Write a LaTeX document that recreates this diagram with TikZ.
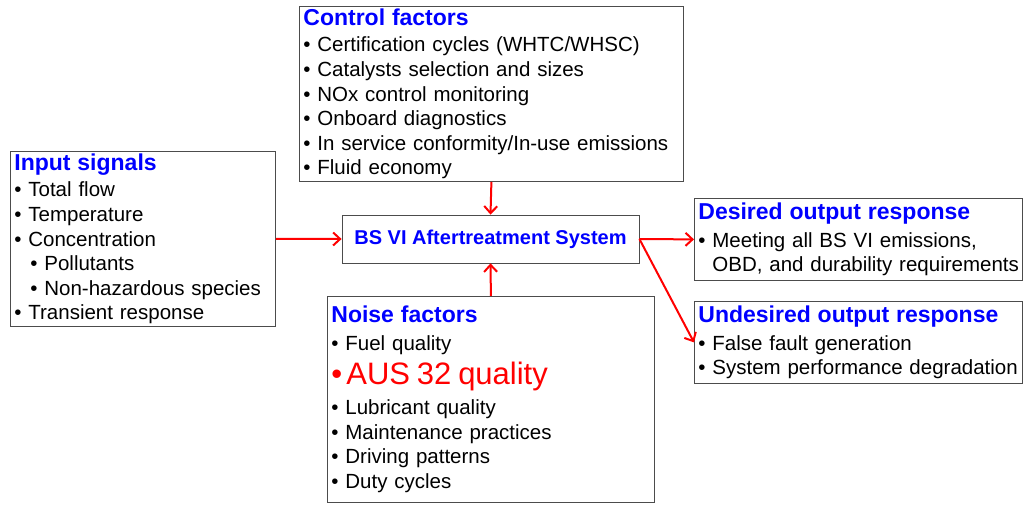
\documentclass[tikz,border=0pt]{standalone}
\usepackage{fontspec}
\setmainfont{Liberation Sans}
\usetikzlibrary{arrows.meta,positioning}

\definecolor{titleblue}{RGB}{0,0,255}
\definecolor{arrowred}{RGB}{255,0,0}

\newcommand{\itm}{\makebox[14pt][l]{\textbullet}}
\newcommand{\subitm}{\hspace*{16pt}\makebox[14pt][l]{\textbullet}}
\newcommand{\boxtitle}[1]{{\fontsize{23}{26}\selectfont\bfseries\color{titleblue}#1}}

\begin{document}
\begin{tikzpicture}[x=1pt,y=-1pt,
  factorbox/.style={draw=black!70, line width=0.8pt, rectangle, align=left,
    anchor=north west, inner xsep=4pt, inner ysep=0pt,
    font=\fontsize{20.5}{24.6}\selectfont},
  flow/.style={draw=arrowred, line width=2pt, -{Straight Barb[length=7pt,width=13pt]}}]

  \useasboundingbox (0,0) rectangle (1024,505);

  % factor boxes
  \node[factorbox, text width=376pt, minimum height=175pt] (control) at (299,6) {%
    \boxtitle{Control factors}\\[2pt]
    \itm Certification cycles (WHTC/WHSC)\\
    \itm Catalysts selection and sizes\\
    \itm NOx control monitoring\\
    \itm Onboard diagnostics\\
    \itm In service conformity/In-use emissions\\
    \itm Fluid economy};

  \node[factorbox, text width=257pt, minimum height=175pt] (input) at (10,151) {%
    \boxtitle{Input signals}\\[2pt]
    \itm Total flow\\
    \itm Temperature\\
    \itm Concentration\\
    \subitm Pollutants\\
    \subitm Non-hazardous species\\
    \itm Transient response};

  \node[factorbox, text width=319pt, minimum height=206pt] (noise) at (327,296) {%
    \boxtitle{Noise factors}\\[3pt]
    \itm Fuel quality\\[6pt]
    {\color{arrowred}\fontsize{31}{34}\selectfont\makebox[15pt][l]{\textbullet}AUS 32 quality}\\[6pt]
    \itm Lubricant quality\\
    \itm Maintenance practices\\
    \itm Driving patterns\\
    \itm Duty cycles};

  \node[factorbox, text width=320pt, minimum height=82pt] (desired) at (694,198) {%
    \boxtitle{Desired output response}\\[3pt]
    \itm Meeting all BS VI emissions,\\
    \mbox{\hspace*{14pt}OBD, and durability requirements}};

  \node[factorbox, text width=320pt, minimum height=82pt] (undesired) at (694,301) {%
    \boxtitle{Undesired output response}\\[3pt]
    \itm False fault generation\\
    \itm System performance degradation};

  % system
  \node[draw=black!70, line width=0.8pt, minimum width=297pt, minimum height=48pt,
    font=\fontsize{20}{22}\selectfont\bfseries, text=titleblue] (bs) at (490.5,239)
    {BS VI Aftertreatment\ System};

  % arrows
  \draw[flow] (input.east) -- (bs.west);
  \draw[flow] (control.south) -- (bs.north);
  \draw[flow] (noise.north) -- (bs.south);
  \draw[flow] (bs.east) -- (desired.west);
  \draw[flow] (bs.east) -- (undesired.west);

\end{tikzpicture}
\end{document}
